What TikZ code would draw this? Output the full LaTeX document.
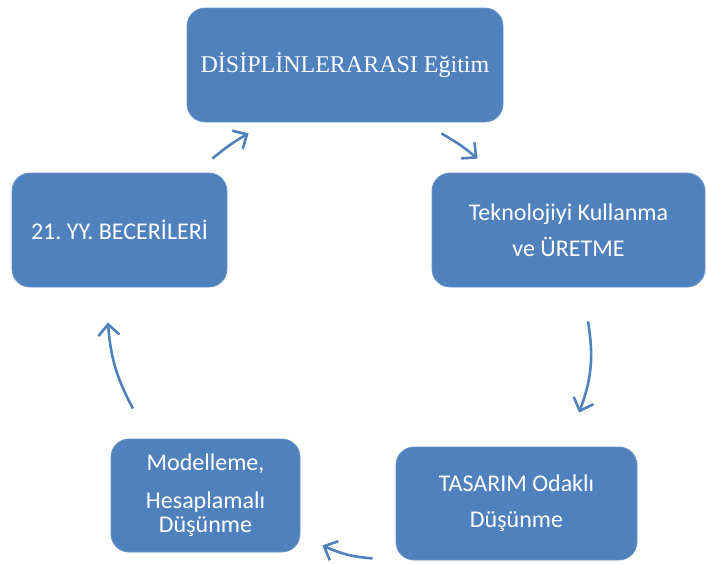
\documentclass[tikz,border=0pt]{standalone}
\usepackage{fontspec}
\setmainfont{Carlito}
\newfontfamily\timesface{Liberation Serif}
\usetikzlibrary{arrows.meta}
\definecolor{cycleblue}{HTML}{4F81BD}

\begin{document}
\begin{tikzpicture}[
  x=1pt, y=-1pt,
  every node/.style={font=\fontsize{24}{24}\selectfont\frenchspacing, align=center, text=white},
  cyclebox/.style={rectangle, rounded corners=18pt, fill=cycleblue, draw=cycleblue!85!white, line width=0.8pt},
  cyclearrow/.style={draw=cycleblue, line width=2.6pt, -{Straight Barb[length=11pt,width=21pt]}}
  ]

\useasboundingbox (0,0) rectangle (707,563);

% Nodes (box centres and sizes in pixels of the page)
\node[cyclebox, minimum width=316pt, minimum height=114pt] (disiplin) at (345,65) {\timesface\fontsize{24}{26}\selectfont DİSİPLİNLERARASI Eğitim};
\node[cyclebox, minimum width=273pt, minimum height=114pt] (teknoloji) at (568.5,230) {Teknolojiyi Kullanma\\[12pt] ve ÜRETME};
\node[cyclebox, minimum width=241pt, minimum height=113pt] (tasarim) at (516.5,503.5) {TASARIM Odaklı\\[12pt] Düşünme};
\node[cyclebox, minimum width=189pt, minimum height=113pt] (model) at (205.5,495.5) {Modelleme,\\[14pt] Hesaplamalı\\ Düşünme};
\node[cyclebox, minimum width=215pt, minimum height=114pt] (beceri) at (119.5,230) {21. YY. BECERİLERİ};

% Arrows
\draw[cyclearrow] ([shift={(-15,-14)}]beceri.north east) to[bend left=5] ([shift={(62,11)}]disiplin.south west);
\draw[cyclearrow] ([shift={(-62,11)}]disiplin.south east) to[bend left=5] ([shift={(46,-14)}]teknoloji.north west);
\draw[cyclearrow] ([shift={(19.5,34)}]teknoloji.south) to[bend left=15] ([shift={(62.5,-34)}]tasarim.north);
\draw[cyclearrow] ([shift={(-23,-2)}]tasarim.south west) to[bend left=10] ([shift={(22,-7)}]model.south east);
\draw[cyclearrow] ([shift={(-72.5,-30)}]model.north) to[bend left=12] ([shift={(-11.5,35)}]beceri.south);

\end{tikzpicture}
\end{document}
